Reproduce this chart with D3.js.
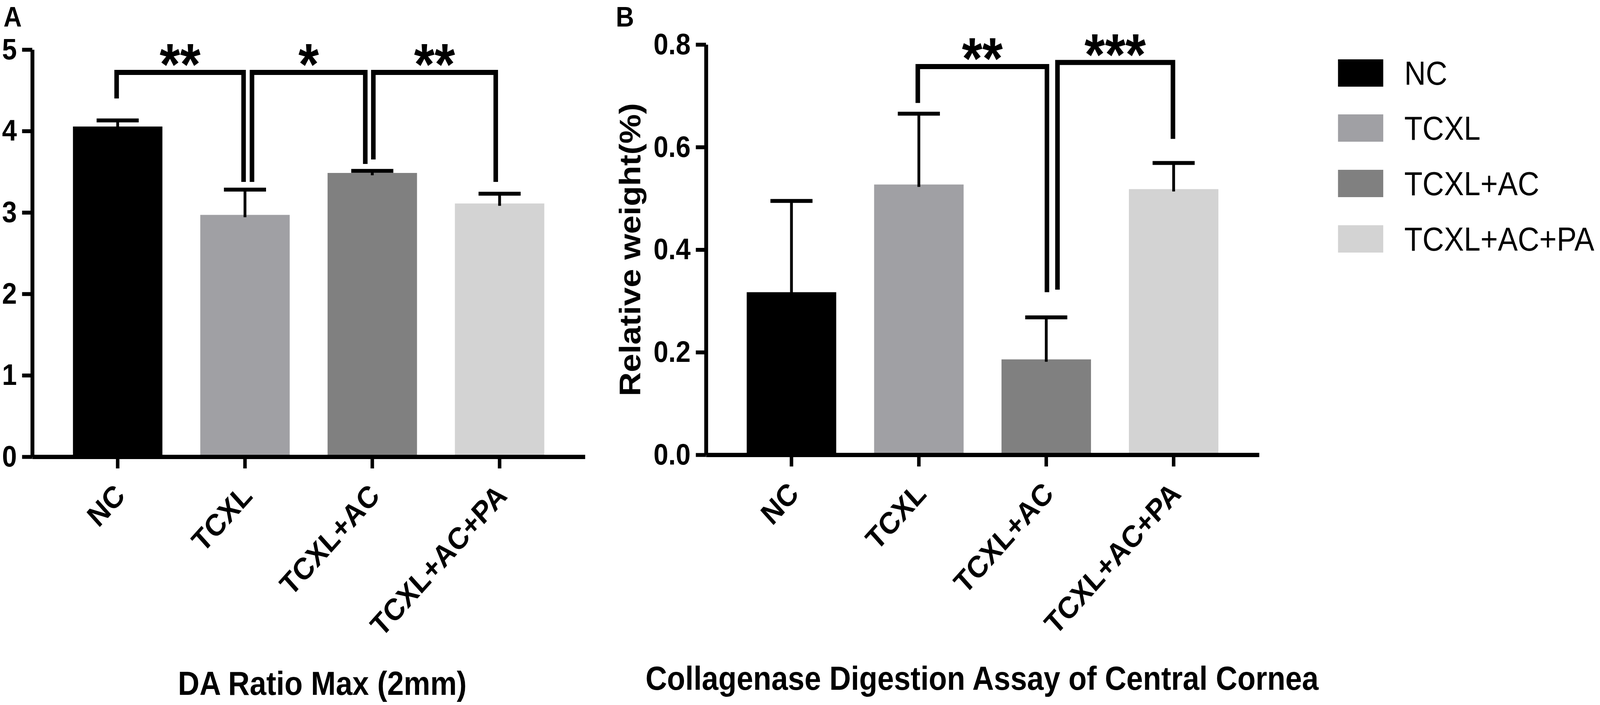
<!DOCTYPE html>
<html>
<head>
<meta charset="utf-8">
<script src="https://cdn.jsdelivr.net/npm/d3@7"></script>
<style>
  html, body { margin: 0; padding: 0; background: #ffffff; width: 100%; height: 100%; overflow: hidden; }
  svg { display: block; width: 100vw; height: 100vh; }
  text { font-family: "Liberation Sans", Arial, Helvetica, sans-serif; fill: #000; }
</style>
</head>
<body>
<svg id="chart" viewBox="0 0 4562 1806" preserveAspectRatio="none"></svg>
<script>
// ---------------- data ----------------
const categories = ["NC", "TCXL", "TCXL+AC", "TCXL+AC+PA"];
const groupColors = ["#000000", "#a0a0a4", "#808080", "#d3d3d3"];

// Panel A: DA Ratio Max (2mm)
const daMeans = [4.055, 2.97, 3.485, 3.11];
const daSD    = [0.075, 0.31, 0.025, 0.12];
const daTicks = [0, 1, 2, 3, 4, 5];
const daSig = [
  { from: 0, to: 1, top: 4.72, leftEnd: 4.40,  rightEnd: 3.375, label: "**" },
  { from: 1, to: 2, top: 4.72, leftEnd: 3.375, rightEnd: 3.595, label: "*" },
  { from: 2, to: 3, top: 4.72, leftEnd: 3.65,  rightEnd: 3.375, label: "**" }
];

// Panel B: Collagenase Digestion Assay of Central Cornea
const cdMeans = [0.317, 0.527, 0.186, 0.518];
const cdSD    = [0.178, 0.138, 0.082, 0.051];
const cdTicks = [0, 0.2, 0.4, 0.6, 0.8];
const cdSig = [
  { from: 1, to: 2, top: 0.757, leftEnd: 0.686, rightEnd: 0.317, label: "**" },
  { from: 2, to: 3, top: 0.765, leftEnd: 0.322, rightEnd: 0.616, label: "***" }
];

// ---------------- styles / layout ----------------
const FONT = '"Liberation Sans", Arial, Helvetica, sans-serif';
const STAR_SIZE = 150;
const svg = d3.select("#chart");

const panels = [
  {
    letter: "A", letterX: 10,
    means: daMeans, sd: daSD, ticks: daTicks, sig: daSig,
    xRange: [92, 1668], yRange: [1170, 127], yDomain: [0, 5], tickFmt: d3.format("d"),
    legShift: [[-3, -4], [20, -20], [3, -11]],
    title: "DA Ratio Max (2mm)", titleX: 919, titleY: 1780,
    yTitle: null
  },
  {
    letter: "B", letterX: 1756,
    means: cdMeans, sd: cdSD, ticks: cdTicks, sig: cdSig,
    xRange: [2013, 3590], yRange: [1165, 114], yDomain: [0, 0.8], tickFmt: d3.format(".1f"),
    legShift: [[-3, 2], [32, -2]],
    title: "Collagenase Digestion Assay of Central Cornea", titleX: 2800, titleY: 1767,
    yTitle: "Relative weight(%)", yTitleX: 1825
  }
];

panels.forEach(p => {
  const g = svg.append("g");

  const x = d3.scaleBand().domain(categories).range(p.xRange)
    .paddingInner(0.2975).paddingOuter(0.3196);
  const y = d3.scaleLinear().domain(p.yDomain).range(p.yRange);

  // panel letter
  g.append("text").attr("x", p.letterX).attr("y", 68)
    .attr("font-size", 72).attr("font-weight", "bold").text(p.letter);

  // bars
  g.selectAll("rect.bar").data(categories).enter().append("rect")
    .attr("class", "bar")
    .attr("x", d => x(d))
    .attr("width", x.bandwidth())
    .attr("y", (d, i) => y(p.means[i]))
    .attr("height", (d, i) => y(0) - y(p.means[i]))
    .attr("fill", (d, i) => groupColors[i]);

  // error bars (upper only)
  const capW = 120;
  categories.forEach((c, i) => {
    const cx = x(c) + x.bandwidth() / 2;
    const yTop = y(p.means[i] + p.sd[i]);
    g.append("line").attr("x1", cx).attr("x2", cx)
      .attr("y1", y(p.means[i]) + 6).attr("y2", yTop)
      .attr("stroke", "#000").attr("stroke-width", 8);
    g.append("line").attr("x1", cx - capW / 2).attr("x2", cx + capW / 2)
      .attr("y1", yTop).attr("y2", yTop)
      .attr("stroke", "#000").attr("stroke-width", 10);
  });

  // y axis
  const yAxis = d3.axisLeft(y).tickValues(p.ticks).tickFormat(p.tickFmt)
    .tickSize(29).tickSizeOuter(0).tickPadding(15);
  const ya = g.append("g").attr("transform", `translate(${p.xRange[0]},0)`).call(yAxis);
  ya.select(".domain").attr("stroke", "#000").attr("stroke-width", 11);
  ya.selectAll(".tick line").attr("stroke", "#000").attr("stroke-width", 10);
  ya.selectAll(".tick text").attr("font-family", FONT).attr("font-size", 76)
    .attr("font-weight", "bold").attr("fill", "#000");

  // x axis
  const xAxis = d3.axisBottom(x).tickSize(30).tickSizeOuter(0);
  const xa = g.append("g").attr("transform", `translate(0,${y(0)})`).call(xAxis);
  xa.select(".domain").attr("stroke", "#000").attr("stroke-width", 11);
  xa.selectAll(".tick line").attr("stroke", "#000").attr("stroke-width", 10);
  xa.selectAll(".tick text")
    .attr("font-family", FONT).attr("font-size", 78).attr("font-weight", "bold")
    .attr("fill", "#000")
    .attr("x", 0).attr("y", 0).attr("dy", 0)
    .attr("text-anchor", "end")
    .attr("transform", "translate(25,104) rotate(-45)");

  // significance brackets
  p.sig.forEach((s, k) => {
    const xl = x(categories[s.from]) + x.bandwidth() / 2 + p.legShift[k][0];
    const xr = x(categories[s.to]) + x.bandwidth() / 2 + p.legShift[k][1];
    const yt = y(s.top);
    g.append("path")
      .attr("d", `M${xl},${y(s.leftEnd)} V${yt} H${xr} V${y(s.rightEnd)}`)
      .attr("fill", "none").attr("stroke", "#000").attr("stroke-width", 13)
      .attr("stroke-linejoin", "miter");
    g.append("text")
      .attr("x", (xl + xr) / 2).attr("y", yt - 55 + 0.58 * STAR_SIZE)
      .attr("text-anchor", "middle").attr("font-size", STAR_SIZE).attr("font-weight", "bold")
      .text(s.label);
  });

  // y title
  if (p.yTitle) {
    const cy = (p.yRange[0] + p.yRange[1]) / 2;
    g.append("text")
      .attr("transform", `translate(${p.yTitleX},${cy}) rotate(-90)`)
      .attr("text-anchor", "middle").attr("font-size", 85).attr("font-weight", "bold")
      .text(p.yTitle);
  }

  // x title
  g.append("text").attr("x", p.titleX).attr("y", p.titleY)
    .attr("text-anchor", "middle").attr("font-size", 85).attr("font-weight", "bold")
    .text(p.title);
});

// legend
const legendRowTop = [152, 293, 435, 577];
const legend = svg.append("g");
categories.forEach((c, i) => {
  legend.append("rect").attr("x", 3815).attr("y", legendRowTop[i])
    .attr("width", 129).attr("height", 70).attr("fill", groupColors[i]);
  legend.append("text").attr("x", 4004).attr("y", legendRowTop[i] + 35)
    .attr("dy", "0.35em").attr("font-size", 85).text(c);
});
</script>
</body>
</html>
